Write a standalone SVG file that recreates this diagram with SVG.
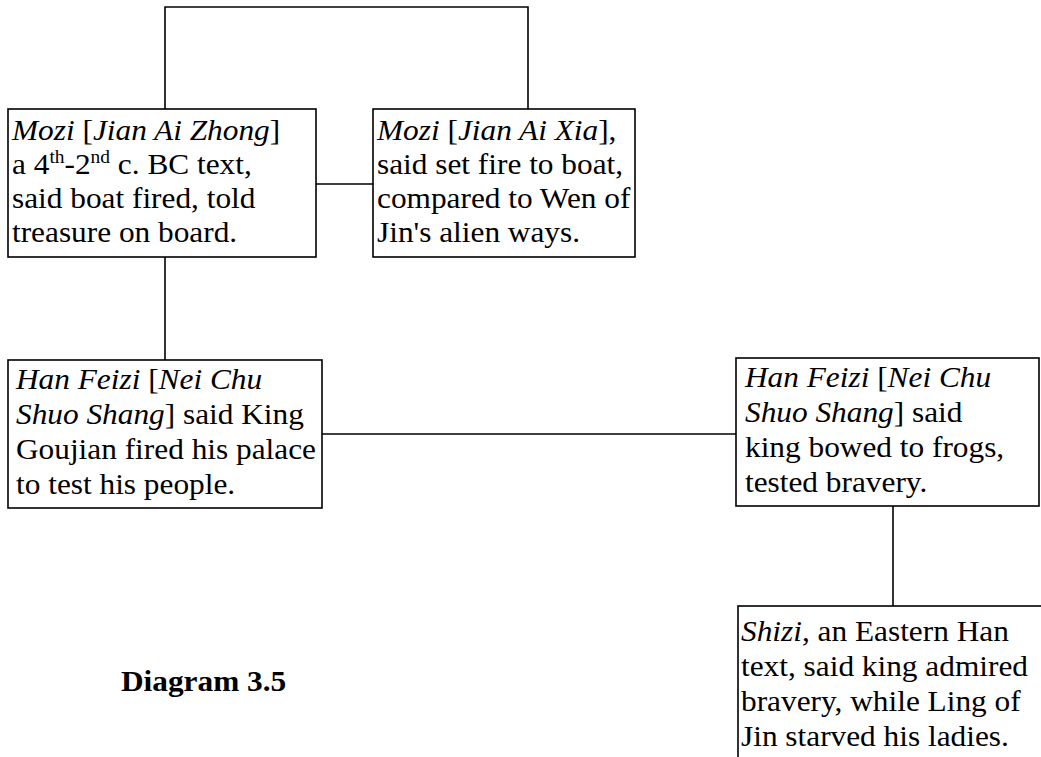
<svg xmlns="http://www.w3.org/2000/svg" width="1041" height="757" viewBox="0 0 1041 757">
  <style>
    .box { fill: #ffffff; stroke: #000000; stroke-width: 1.6; }
    .wire { fill: none; stroke: #000000; stroke-width: 1.6; }
    text { font-family: "Liberation Serif", "Times New Roman", serif; font-size: 29px; fill: #000000; }
    .it { font-style: italic; }
    .sup { font-size: 18px; }
    .title { font-weight: bold; }
  </style>
  <rect width="1041" height="757" fill="#ffffff"/>

  <!-- connectors -->
  <g id="connectors">
    <polyline class="wire" points="165,109 165,7 528,7 528,109"/>
    <line class="wire" x1="316" y1="184" x2="373" y2="184"/>
    <line class="wire" x1="165" y1="257" x2="165" y2="360"/>
    <line class="wire" x1="322" y1="434" x2="736" y2="434"/>
    <line class="wire" x1="893" y1="506" x2="893" y2="606"/>
  </g>

  <!-- Mozi, Jian Ai Zhong -->
  <g id="mozi-zhong">
    <rect class="box" x="8" y="109" width="308" height="148"/>
    <g transform="translate(12,0) scale(1.08,1)">
      <text x="0" y="140"><tspan class="it">Mozi</tspan> [<tspan class="it">Jian Ai Zhong</tspan>]</text>
      <text x="0" y="174">a 4<tspan class="sup" dy="-11">th</tspan><tspan dy="11">-2</tspan><tspan class="sup" dy="-11">nd</tspan><tspan dy="11"> c. BC text,</tspan></text>
      <text x="0" y="208">said boat fired, told</text>
      <text x="0" y="242">treasure on board.</text>
    </g>
  </g>

  <!-- Mozi, Jian Ai Xia -->
  <g id="mozi-xia">
    <rect class="box" x="373" y="109" width="262" height="148"/>
    <g transform="translate(377,0) scale(1.08,1)">
      <text x="0" y="140"><tspan class="it">Mozi</tspan> [<tspan class="it">Jian Ai Xia</tspan>],</text>
      <text x="0" y="174">said set fire to boat,</text>
      <text x="0" y="208">compared to Wen of</text>
      <text x="0" y="242">Jin's alien ways.</text>
    </g>
  </g>

  <!-- Han Feizi, King Goujian -->
  <g id="hanfeizi-goujian">
    <rect class="box" x="8" y="360" width="314" height="148"/>
    <g transform="translate(16,0) scale(1.08,1)">
      <text x="0" y="389"><tspan class="it">Han Feizi</tspan> [<tspan class="it">Nei Chu</tspan></text>
      <text x="0" y="424"><tspan class="it">Shuo Shang</tspan>] said King</text>
      <text x="0" y="459">Goujian fired his palace</text>
      <text x="0" y="494">to test his people.</text>
    </g>
  </g>

  <!-- Han Feizi, frogs -->
  <g id="hanfeizi-frogs">
    <rect class="box" x="736" y="358" width="303" height="148"/>
    <g transform="translate(745,0) scale(1.08,1)">
      <text x="0" y="387"><tspan class="it">Han Feizi</tspan> [<tspan class="it">Nei Chu</tspan></text>
      <text x="0" y="422"><tspan class="it">Shuo Shang</tspan>] said</text>
      <text x="0" y="457">king bowed to frogs,</text>
      <text x="0" y="492">tested bravery.</text>
    </g>
  </g>

  <!-- Shizi -->
  <g id="shizi">
    <rect class="box" x="738" y="606" width="320" height="170"/>
    <g transform="translate(741,0) scale(1.08,1)">
      <text x="0" y="641"><tspan class="it">Shizi</tspan>, an Eastern Han</text>
      <text x="0" y="676">text, said king admired</text>
      <text x="0" y="711">bravery, while Ling of</text>
      <text x="0" y="746">Jin starved his ladies.</text>
    </g>
  </g>

  <!-- caption -->
  <g id="caption" transform="translate(121,0) scale(1.08,1)">
    <text class="title" x="0" y="691">Diagram 3.5</text>
  </g>
</svg>
